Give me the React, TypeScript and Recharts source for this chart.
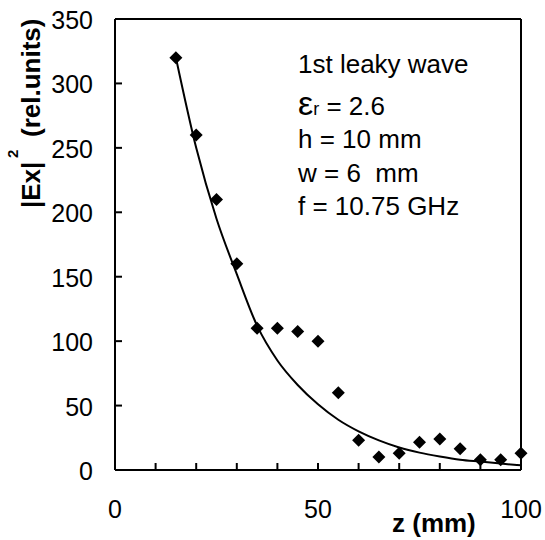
import { ComposedChart, Line, Scatter, XAxis, YAxis, ReferenceLine } from 'recharts'

// measured |Ex|^2 along z
const zMeas = [15, 20, 25, 30, 35, 40, 45, 50, 55, 60, 65, 70, 75, 80, 85, 90, 95, 100]
const eMeas = [320, 260, 210, 160, 110, 110, 107.5, 100, 60, 23, 10, 13, 21.5, 24, 16.5, 8, 8, 13]
// fitted decay curve
const zFit = [15, 20, 25, 30, 35, 40, 45, 50, 55, 60, 65, 70, 75, 80, 85, 90, 95, 100]
const eFit = [320, 250, 195, 152, 112, 85, 66, 51, 39, 30, 23, 17.5, 13.5, 10.5, 8, 6.5, 5, 3.6]
const xTicks = [0, 10, 20, 30, 40, 50, 60, 70, 80, 90, 100]
const xLabeled = [0, 50, 100]
const yTicks = [0, 50, 100, 150, 200, 250, 300, 350]

const meas = zMeas.map((z, i) => ({ z, e: eMeas[i] }))
const fit = zFit.map((z, i) => ({ z, e: eFit[i] }))

const FONT = '"Liberation Sans", Arial, sans-serif'

const Diamond = (p: any) => {
  const { cx, cy } = p
  const r = 6.5
  return <path d={`M${cx},${cy - r}L${cx + r},${cy}L${cx},${cy + r}L${cx - r},${cy}Z`} fill="#000" />
}

const YTick = (p: any) => {
  const { x, y, payload } = p
  return (
    <g>
      <line x1={x + 22} x2={x + 29} y1={y} y2={y} stroke="#000" strokeWidth={2} />
      <text x={x} y={y + 10} textAnchor="end" fontSize={25} fontFamily={FONT} fill="#000">{payload.value}</text>
    </g>
  )
}

const XTick = (p: any) => {
  const { x, y, payload } = p
  return (
    <g>
      <line x1={x} x2={x} y1={y - 16} y2={y - 23} stroke="#000" strokeWidth={2} />
      {xLabeled.includes(payload.value) && (
        <text x={x} y={y + 32} textAnchor="middle" fontSize={25} fontFamily={FONT} fill="#000">{payload.value}</text>
      )}
    </g>
  )
}

export default function App() {
  const axis = { stroke: '#000', strokeWidth: 2 }
  return (
    <div style={{ position: 'absolute', left: 0, top: 0, width: 545, height: 540, background: '#fff' }}>
      <ComposedChart width={545} height={540} margin={{ top: 19, right: 24, left: 15, bottom: 30 }}>
        <XAxis dataKey="z" type="number" domain={[0, 100]} ticks={xTicks} interval={0} height={40}
          axisLine={axis} tickLine={false} tickSize={6} tickMargin={10} tick={XTick} />
        <YAxis type="number" domain={[0, 350]} ticks={yTicks} interval={0} width={100}
          axisLine={axis} tickLine={false} tickSize={6} tickMargin={16} tick={YTick} />
        <ReferenceLine y={350} stroke="#000" strokeWidth={2} />
        <ReferenceLine x={100} stroke="#000" strokeWidth={2} />
        <Line data={fit} dataKey="e" type="monotone" stroke="#000" strokeWidth={2} dot={false} isAnimationActive={false} />
        <Scatter data={meas} dataKey="e" fill="#000" shape={Diamond} isAnimationActive={false} />
      </ComposedChart>
      <svg width={545} height={540} style={{ position: 'absolute', left: 0, top: 0, pointerEvents: 'none' }}
        fontFamily={FONT} fill="#000">
        <text x={298} y={73} fontSize={26}>1st leaky wave</text>
        <text x={298} y={115} fontSize={26}>
          <tspan fontSize={34}>ε</tspan><tspan fontSize={18}>r</tspan>{' = 2.6'}
        </text>
        <text x={298} y={148} fontSize={26}>h = 10 mm</text>
        <text x={298} y={182} fontSize={26} style={{ whiteSpace: 'pre' }}>w = 6  mm</text>
        <text x={298} y={215} fontSize={26}>f = 10.75 GHz</text>
        <text transform="translate(40,208) rotate(-90)" fontSize={26} fontWeight="bold">
          <tspan>|Ex|</tspan>
          <tspan x={50} dy={-22} fontSize={15}>2</tspan>
          <tspan x={71} dy={22}>(rel.units)</tspan>
        </text>
        <text x={392} y={532} fontSize={26} fontWeight="bold">z (mm)</text>
      </svg>
    </div>
  )
}
